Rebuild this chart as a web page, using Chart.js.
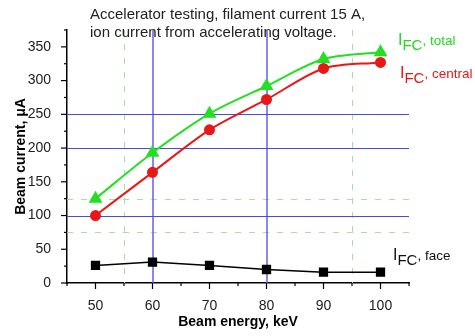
<!DOCTYPE html>
<html>
<head>
<meta charset="utf-8">
<script src="https://cdn.jsdelivr.net/npm/chart.js@4"></script>
<style>
  html, body { margin: 0; padding: 0; background: #fff; }
  #box { width: 475px; height: 336px; }
</style>
</head>
<body>
<div id="box"><canvas id="grafico"></canvas></div>
<script>
const energies = [50, 60, 70, 80, 90, 100];
const totalCurrent = [125, 193, 251, 292, 332, 342];
const centralCurrent = [100, 164, 227, 272, 318, 327];
const faceCurrent = [26, 31, 26, 20, 16, 16];

const xTickLabels = [50, 60, 70, 80, 90, 100];
const yTickLabels = [0, 50, 100, 150, 200, 250, 300, 350];

// reference lines drawn over the plot
const blueX = [60, 80];
const blueY = [100, 200, 250];
const greenX = [55, 95];
const greenY = [75, 125];

const titleLines = ['Accelerator testing, filament current 15 A,', 'ion current from accelerating voltage.'];

const FONT = '"Liberation Sans", Arial, sans-serif';

function pts(ys) {
  return energies.map((x, i) => ({ x: x, y: ys[i] }));
}

const refLines = {
  id: 'refLines',
  beforeDatasetsDraw(chart) {
    const { ctx, chartArea: a, scales: { x, y } } = chart;
    ctx.save();
    ctx.lineWidth = 1;
    ctx.strokeStyle = '#a8dca8';
    ctx.setLineDash([6, 8]);
    greenX.forEach(v => {
      const px = Math.round(x.getPixelForValue(v)) + 0.5;
      ctx.beginPath(); ctx.moveTo(px, a.top); ctx.lineTo(px, a.bottom); ctx.stroke();
    });
    greenY.forEach(v => {
      const py = Math.round(y.getPixelForValue(v)) + 0.5;
      ctx.beginPath(); ctx.moveTo(a.left, py); ctx.lineTo(a.right, py); ctx.stroke();
    });
    ctx.setLineDash([]);
    ctx.strokeStyle = '#6060e8';
    ctx.lineWidth = 1.5;
    blueX.forEach(v => {
      const px = Math.round(x.getPixelForValue(v));
      ctx.beginPath(); ctx.moveTo(px, a.top); ctx.lineTo(px, a.bottom); ctx.stroke();
    });
    ctx.lineWidth = 1;
    ctx.strokeStyle = '#4a4ae0';
    blueY.forEach(v => {
      const py = Math.round(y.getPixelForValue(v)) + 0.5;
      ctx.beginPath(); ctx.moveTo(a.left, py); ctx.lineTo(a.right, py); ctx.stroke();
    });

    // tick marks outside the axes
    ctx.strokeStyle = '#000';
    ctx.lineWidth = 1.2;
    for (let v = 45; v <= 105; v += 5) {
      const px = x.getPixelForValue(v);
      const len = v % 10 === 0 ? 6 : 3;
      ctx.beginPath(); ctx.moveTo(px, a.bottom); ctx.lineTo(px, a.bottom + len); ctx.stroke();
    }
    for (let v = 0; v <= 375; v += 25) {
      const py = y.getPixelForValue(v);
      const len = v % 50 === 0 ? 6 : 3;
      ctx.beginPath(); ctx.moveTo(a.left, py); ctx.lineTo(a.left - len, py); ctx.stroke();
    }
    ctx.restore();
  },
  afterDraw(chart) {
    const { ctx } = chart;
    ctx.save();
    ctx.fillStyle = '#222';
    ctx.font = '15px ' + FONT;
    ctx.textBaseline = 'alphabetic';
    ctx.fillText(titleLines[0], 90, 19);
    ctx.fillText(titleLines[1], 90, 37);

    const label = (x0, base, color, rest) => {
      ctx.fillStyle = color;
      ctx.font = '16px ' + FONT;
      ctx.fillText('I', x0, base);
      let xx = x0 + ctx.measureText('I').width;
      ctx.font = '15px ' + FONT;
      ctx.fillText('FC', xx, base + 5);
      xx += ctx.measureText('FC').width;
      ctx.font = '13.5px ' + FONT;
      ctx.fillText(rest, xx, base);
    };
    label(398, 45, '#22d822', ', total');
    label(400, 78, '#e01818', ', central');
    label(393, 260, '#111', ', face');
    ctx.restore();
  }
};

new Chart(document.getElementById('grafico'), {
  type: 'scatter',
  data: {
    datasets: [
      {
        label: 'total',
        data: pts(totalCurrent),
        showLine: true,
        borderColor: '#22e022',
        backgroundColor: '#22e022',
        borderWidth: 2,
        pointStyle: 'triangle',
        pointRadius: 6,
        tension: 0.3
      },
      {
        label: 'central',
        data: pts(centralCurrent),
        showLine: true,
        borderColor: '#e81818',
        backgroundColor: '#e81818',
        borderWidth: 2,
        pointStyle: 'circle',
        pointRadius: 4.5,
        tension: 0.3
      },
      {
        label: 'face',
        data: pts(faceCurrent),
        showLine: true,
        borderColor: '#000',
        backgroundColor: '#000',
        borderWidth: 1.5,
        pointStyle: 'rect',
        pointRadius: 5.5,
        tension: 0
      }
    ]
  },
  options: {
    responsive: true,
    maintainAspectRatio: false,
    animation: false,
    layout: { padding: { top: 30, right: 66, left: 0, bottom: 0 } },
    plugins: {
      legend: { display: false },
      tooltip: { enabled: false }
    },
    scales: {
      x: {
        type: 'linear',
        min: 45,
        max: 105,
        afterFit(s) { s.height = 53; },
        grid: { display: false },
        border: { display: true, color: '#000', width: 1.5 },
        ticks: {
          stepSize: 5,
          padding: 7,
          maxRotation: 0,
          minRotation: 0,
          autoSkip: false,
          color: '#222',
          font: { family: FONT, size: 14 },
          callback: v => xTickLabels.includes(v) ? v : ''
        },
        title: {
          display: true,
          text: 'Beam energy, keV',
          color: '#000',
          font: { family: FONT, size: 14, weight: 'bold' },
          padding: { top: 0, bottom: 5 }
        }
      },
      y: {
        min: 0,
        max: 375,
        afterFit(s) { s.width = 67; },
        grid: { display: false },
        border: { display: true, color: '#000', width: 1.5 },
        ticks: {
          stepSize: 25,
          padding: 8,
          autoSkip: false,
          color: '#222',
          font: { family: FONT, size: 14 },
          callback: v => yTickLabels.includes(v) ? v : ''
        },
        title: {
          display: true,
          text: 'Beam current, μA',
          color: '#000',
          font: { family: FONT, size: 14, weight: 'bold' },
          padding: { top: 13, bottom: 0 }
        }
      }
    }
  },
  plugins: [refLines]
});
</script>
</body>
</html>
